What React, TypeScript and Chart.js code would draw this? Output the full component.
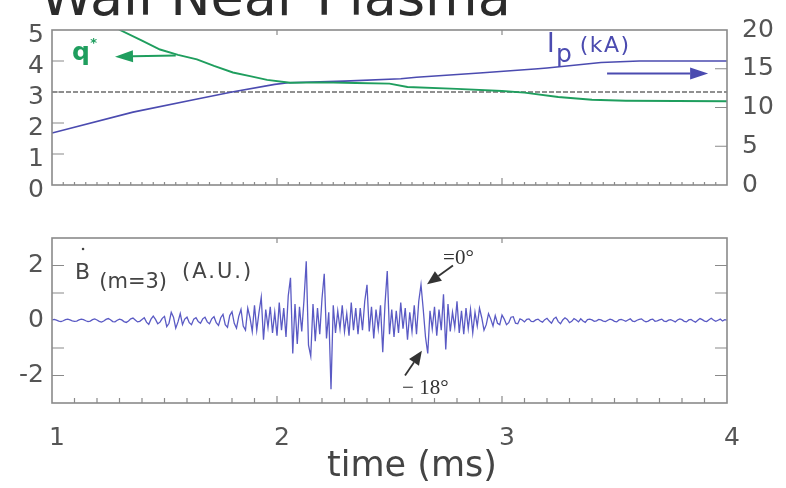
import React, { useEffect, useRef } from 'react';
import { Chart, registerables } from 'chart.js';
Chart.register(...registerables);

const TITLE = 'Wall Near Plasma';
const X_LABEL = 'time (ms)';

// q* (left axis, top panel)
const qTime = [1.25, 1.302, 1.40, 1.48, 1.56, 1.644, 1.72, 1.804, 1.88, 1.956, 2.058, 2.2, 2.35, 2.5, 2.58, 2.8, 3.0, 3.1, 3.25, 3.4, 3.55, 4.0];
const qValues = [5.25, 5.0, 4.66, 4.37, 4.2, 4.05, 3.84, 3.63, 3.51, 3.39, 3.30, 3.31, 3.29, 3.27, 3.16, 3.10, 3.03, 2.98, 2.84, 2.75, 2.72, 2.70];

// Ip in kA (right axis, top panel)
const ipTime = [1.0, 1.36, 1.64, 1.80, 1.99, 2.05, 2.3, 2.55, 2.62, 2.9, 3.16, 3.2, 3.44, 3.61, 4.0];
const ipValues = [6.7, 9.4, 11.07, 12.0, 12.98, 13.2, 13.4, 13.7, 13.9, 14.46, 15.0, 15.1, 15.8, 16.0, 16.0];

// q = 3 reference line
const qRefTime = [1, 4];
const qRefValues = [3, 3];

// B-dot (m=3) signal, sampled every 0.01 ms from 1.00 ms
const bdotStart = 1.0;
const bdotStep = 0.01;
const bdotValues = [
  0.02, 0.04, 0.01, -0.02, -0.04, -0.01, 0.03, 0.05, 0.02, -0.01,
  -0.03, -0.02, 0.02, 0.05, 0.03, -0.01, -0.04, -0.02, 0.03, 0.06,
  0.02, -0.03, -0.06, -0.02, 0.04, 0.07, 0.03, -0.04, -0.05, 0.01,
  0.05, 0.02, -0.04, -0.07, -0.02, 0.06, 0.09, 0.02, -0.05, -0.03,
  0.04, 0.10, -0.06, -0.14, 0.05, 0.16, 0.04, -0.12, -0.06, 0.08,
  0.15, -0.22, -0.10, 0.30, 0.12, -0.28, -0.05, 0.25, -0.15, 0.05,
  0.12, -0.08, -0.15, 0.05, 0.10, -0.04, -0.10, 0.06, 0.12, -0.05,
  -0.12, 0.06, 0.14, -0.08, -0.18, 0.10, 0.22, -0.15, -0.25, 0.18,
  0.32, -0.10, -0.28, 0.15, 0.40, -0.20, -0.35, 0.45, 0.10, -0.40,
  0.55, -0.35, 0.30, 0.85, -0.70, 0.40, -0.25, 0.50, -0.45, 0.30,
  -0.55, 0.65, -0.35, 0.45, -0.60, 0.90, 1.55, -1.20, 0.60, -0.85,
  0.50, -0.40, 0.75, 2.15, -0.90, -1.30, 0.60, -0.75, 0.45, -0.50,
  0.80, 1.70, -0.65, 0.30, -2.50, 0.55, -0.45, 0.35, -0.30, 0.55,
  -0.40, 0.25, -0.55, 0.65, -0.35, 0.45, -0.50, 0.45, -0.35, 0.70,
  1.30, -0.40, 0.50, -0.65, 0.40, -0.30, 0.55, -1.15, 0.60, 1.80,
  -0.50, 0.40, -0.60, 0.35, -0.45, 0.65, -0.30, 0.45, -0.70, 0.30,
  -0.40, 0.55, -0.50, 0.70, 1.30, 0.40, -0.60, -1.20, 0.35, -0.30,
  0.50, -0.55, 0.40, -0.35, 0.95, -1.05, 0.60, -0.40, 0.30, -0.25,
  0.70, -0.45, 0.35, -0.50, 0.45, -0.30, 0.40, -0.45, 0.30, -0.20,
  0.45, 0.10, -0.35, -0.15, 0.25, 0.05, -0.20, 0.18, -0.10, -0.15,
  0.20, 0.05, -0.15, -0.08, 0.12, 0.14, -0.10, -0.12, 0.06, 0.02,
  -0.05, 0.04, 0.06, -0.03, -0.04, 0.02, 0.05, -0.02, -0.06, 0.03,
  0.08, -0.02, -0.10, 0.06, 0.12, -0.04, -0.12, 0.02, 0.10, 0.04,
  -0.08, -0.03, 0.07, 0.02, -0.05, 0.06, -0.02, -0.07, 0.03, 0.05,
  0.02, -0.03, -0.01, 0.04, 0.02, -0.02, -0.04, 0.01, 0.05, 0.02,
  -0.03, -0.05, 0.02, 0.04, 0.01, -0.03, 0.02, 0.06, -0.02, -0.04,
  0.01, 0.04, 0.06, -0.01, -0.05, -0.02, 0.03, 0.05, -0.03, -0.01,
  0.02, 0.05, -0.02, -0.04, 0.01, 0.03, -0.01, -0.05, 0.02, 0.06,
  0.03, -0.03, -0.05, 0.02, 0.04, -0.02, -0.06, 0.01, 0.07, 0.03,
  -0.02, -0.04, 0.03, 0.08, 0.02, -0.03, 0.01, 0.05, -0.02, 0.03,
  0.01,
];

// axis tick values
const topLeftTicks = [0, 1, 2, 3, 4, 5];
const topRightTicks = [0, 5, 10, 15, 20];
const botLeftTicks = [-2, 0, 2];
const timeTicks = [1, 2, 3, 4];

// tick marks drawn inside the frame
const topLeftMarks = [1, 2, 3, 4];
const topRightMarks = [5, 10, 15];
const botSideMarks = [-2, -1, 1, 2];
const timeMajorMarks = [2, 3];

const GREEN = '#1f9e5e';
const BLUE = '#4b4bb0';
const FRAME = '#8a8a8a';
const LABEL = '#555555';
const FONT = 'DejaVu Sans';

function arrow(ctx: CanvasRenderingContext2D, x1: number, y1: number, x2: number, y2: number, color: string, head: number, half: number, lw: number) {
  const ang = Math.atan2(y2 - y1, x2 - x1);
  const bx = x2 - Math.cos(ang) * head;
  const by = y2 - Math.sin(ang) * head;
  ctx.save();
  ctx.strokeStyle = color;
  ctx.fillStyle = color;
  ctx.lineWidth = lw;
  ctx.beginPath();
  ctx.moveTo(x1, y1);
  ctx.lineTo(bx, by);
  ctx.stroke();
  ctx.beginPath();
  ctx.moveTo(x2, y2);
  ctx.lineTo(bx + Math.sin(ang) * half, by - Math.cos(ang) * half);
  ctx.lineTo(bx - Math.sin(ang) * half, by + Math.cos(ang) * half);
  ctx.closePath();
  ctx.fill();
  ctx.restore();
}

const framePlugin = {
  id: 'frame',
  afterDraw(chart: any, _args: any, opts: any) {
    const { ctx, chartArea: a, scales } = chart;
    const x = scales.x;
    ctx.save();
    ctx.strokeStyle = FRAME;
    ctx.lineWidth = 1.6;
    ctx.strokeRect(a.left, a.top, a.right - a.left, a.bottom - a.top);
    ctx.lineWidth = 1.2;
    ctx.beginPath();
    const ly = scales[opts.leftId];
    for (const v of opts.leftMarks) {
      const p = ly.getPixelForValue(v);
      ctx.moveTo(a.left, p); ctx.lineTo(a.left + 12, p);
    }
    const ry = scales[opts.rightId];
    for (const v of opts.rightMarks) {
      const p = ry.getPixelForValue(v);
      ctx.moveTo(a.right, p); ctx.lineTo(a.right - 12, p);
    }
    for (const v of timeMajorMarks) {
      const p = x.getPixelForValue(v);
      ctx.moveTo(p, a.top); ctx.lineTo(p, a.top + 5);
      ctx.moveTo(p, a.bottom); ctx.lineTo(p, a.bottom - 7);
    }
    const n = Math.round((x.max - x.min) / opts.minorStep);
    for (let i = 1; i < n; i++) {
      const p = x.getPixelForValue(x.min + i * opts.minorStep);
      ctx.moveTo(p, a.bottom); ctx.lineTo(p, a.bottom - opts.minorLen);
    }
    ctx.stroke();
    ctx.restore();
  },
};

const topAnnot = {
  id: 'topAnnot',
  afterDraw(chart: any) {
    const { ctx, scales } = chart;
    const x = scales.x, y = scales.y, y2 = scales.y2;
    ctx.save();
    ctx.fillStyle = '#2b2b2b';
    ctx.font = `54px "${FONT}"`;
    ctx.textBaseline = 'alphabetic';
    ctx.fillText(TITLE, 40, 15);

    // q* label + arrow
    ctx.fillStyle = GREEN;
    ctx.font = `bold 25px "${FONT}"`;
    ctx.fillText('q', x.getPixelForValue(1.089), y.getPixelForValue(4.02));
    ctx.font = `bold 13px "${FONT}"`;
    ctx.fillText('*', x.getPixelForValue(1.17), y.getPixelForValue(4.45));
    arrow(ctx, x.getPixelForValue(1.55), y.getPixelForValue(4.18), x.getPixelForValue(1.28), y.getPixelForValue(4.14), GREEN, 18, 6, 2);

    // Ip label + arrow
    ctx.fillStyle = BLUE;
    ctx.font = `26px "${FONT}"`;
    ctx.fillText('I', x.getPixelForValue(3.2), y2.getPixelForValue(17.1));
    ctx.font = `25px "${FONT}"`;
    ctx.fillText('p', x.getPixelForValue(3.24), y2.getPixelForValue(15.9));
    ctx.font = `22px "${FONT}"`;
    (ctx as any).letterSpacing = '1.5px';
    ctx.fillText('(kA)', x.getPixelForValue(3.345), y2.getPixelForValue(17.2));
    (ctx as any).letterSpacing = '0px';
    arrow(ctx, x.getPixelForValue(3.467), y2.getPixelForValue(14.4), x.getPixelForValue(3.916), y2.getPixelForValue(14.4), BLUE, 18, 6, 2);
    ctx.restore();
  },
};

const botAnnot = {
  id: 'botAnnot',
  afterDraw(chart: any) {
    const { ctx, scales, chartArea: a } = chart;
    const x = scales.x, y = scales.y;
    ctx.save();
    ctx.fillStyle = '#444';
    ctx.font = `22px "${FONT}"`;
    ctx.fillText('B', x.getPixelForValue(1.102), y.getPixelForValue(1.5));
    ctx.beginPath();
    ctx.arc(x.getPixelForValue(1.138), y.getPixelForValue(2.6), 1.3, 0, Math.PI * 2);
    ctx.fill();
    ctx.font = `21px "${FONT}"`;
    ctx.fillText('(m=3)', x.getPixelForValue(1.21), y.getPixelForValue(1.18));
    (ctx as any).letterSpacing = '2px';
    ctx.fillText('(A.U.)', x.getPixelForValue(1.578), y.getPixelForValue(1.55));
    (ctx as any).letterSpacing = '0px';

    ctx.fillStyle = '#333';
    ctx.font = `21px "Liberation Serif"`;
    ctx.fillText('=0°', x.getPixelForValue(2.738), y.getPixelForValue(2.07));
    ctx.fillText('− 18°', x.getPixelForValue(2.556), y.getPixelForValue(-2.68));
    arrow(ctx, x.getPixelForValue(2.782), y.getPixelForValue(2.0), x.getPixelForValue(2.667), y.getPixelForValue(1.32), '#333', 14, 6, 1.8);
    arrow(ctx, x.getPixelForValue(2.569), y.getPixelForValue(-2.0), x.getPixelForValue(2.644), y.getPixelForValue(-1.1), '#333', 14, 6, 1.8);

    // x-axis title
    ctx.fillStyle = '#444';
    ctx.font = `35px "${FONT}"`;
    ctx.textAlign = 'center';
    ctx.textBaseline = 'middle';
    ctx.fillText(X_LABEL, x.getPixelForValue(2.6), a.bottom + 64);
    ctx.restore();
  },
};

const tickFont = { family: FONT, size: 25 };
const noGrid = { display: false, drawTicks: false };

function topConfig(): any {
  return {
    type: 'line',
    data: {
      datasets: [
        { data: qTime.map((t, i) => ({ x: t, y: qValues[i] })), borderColor: GREEN, borderWidth: 1.9, pointRadius: 0, yAxisID: 'y' },
        { data: ipTime.map((t, i) => ({ x: t, y: ipValues[i] })), borderColor: BLUE, borderWidth: 1.6, pointRadius: 0, yAxisID: 'y2' },
        { data: qRefTime.map((t, i) => ({ x: t, y: qRefValues[i] })), borderColor: 'rgba(125,125,125,0.85)', borderWidth: 2.2, borderDash: [5, 2], pointRadius: 0, yAxisID: 'y' },
      ],
    },
    options: {
      animation: false,
      responsive: false,
      layout: { padding: { top: 30, left: 0, right: 0, bottom: 0 } },
      plugins: {
        legend: { display: false },
        tooltip: { enabled: false },
        frame: { leftId: 'y', rightId: 'y2', leftMarks: topLeftMarks, rightMarks: topRightMarks, minorStep: 0.05, minorLen: 3 },
      },
      scales: {
        x: {
          type: 'linear', min: 1, max: 4,
          ticks: { display: false }, grid: noGrid, border: { display: false },
          afterFit: (s: any) => { s.height = 16; },
        },
        y: {
          position: 'left', min: 0, max: 5,
          afterBuildTicks: (s: any) => { s.ticks = topLeftTicks.map((v) => ({ value: v })); },
          ticks: { font: tickFont, color: LABEL, padding: 8, labelOffset: 5, autoSkip: false },
          grid: noGrid, border: { display: false },
          afterFit: (s: any) => { s.width = 52; },
        },
        y2: {
          position: 'right', min: 0, max: 20,
          afterBuildTicks: (s: any) => { s.ticks = topRightTicks.map((v) => ({ value: v })); },
          ticks: { font: tickFont, color: LABEL, padding: 15, autoSkip: false },
          grid: noGrid, border: { display: false },
          afterFit: (s: any) => { s.width = 59; },
        },
      },
    },
    plugins: [framePlugin, topAnnot],
  };
}

function botConfig(): any {
  return {
    type: 'line',
    data: {
      datasets: [
        { data: bdotValues.map((v, i) => ({ x: bdotStart + i * bdotStep, y: v })), borderColor: 'rgba(72,72,190,0.9)', borderWidth: 1.3, pointRadius: 0 },
      ],
    },
    options: {
      animation: false,
      responsive: false,
      layout: { padding: { top: 18, left: 0, right: 59, bottom: 0 } },
      plugins: {
        legend: { display: false },
        tooltip: { enabled: false },
        frame: { leftId: 'y', rightId: 'y', leftMarks: botSideMarks, rightMarks: botSideMarks, minorStep: 0.1, minorLen: 5 },
      },
      scales: {
        x: {
          type: 'linear', min: 1, max: 4,
          afterBuildTicks: (s: any) => { s.ticks = timeTicks.map((v) => ({ value: v })); },
          ticks: { font: tickFont, color: LABEL, padding: 20, labelOffset: 5, maxRotation: 0, autoSkip: false },
          grid: noGrid, border: { display: false },
          afterFit: (s: any) => { s.height = 85; },
        },
        y: {
          position: 'left', min: -3, max: 3,
          afterBuildTicks: (s: any) => { s.ticks = botLeftTicks.map((v) => ({ value: v })); },
          ticks: { font: tickFont, color: LABEL, padding: 8, autoSkip: false },
          grid: noGrid, border: { display: false },
          afterFit: (s: any) => { s.width = 52; },
        },
      },
    },
    plugins: [framePlugin, botAnnot],
  };
}

export default function App() {
  const topRef = useRef<HTMLCanvasElement>(null);
  const botRef = useRef<HTMLCanvasElement>(null);
  useEffect(() => {
    const c1 = new Chart(topRef.current as HTMLCanvasElement, topConfig());
    const c2 = new Chart(botRef.current as HTMLCanvasElement, botConfig());
    return () => { c1.destroy(); c2.destroy(); };
  }, []);
  return (
    <div style={{ position: 'fixed', left: 0, top: 0, width: 786, height: 488, background: '#fff', overflow: 'hidden' }}>
      <canvas ref={topRef} width={786} height={215} style={{ position: 'absolute', left: 0, top: 0, width: 786, height: 215 }} />
      <canvas ref={botRef} width={786} height={273} style={{ position: 'absolute', left: 0, top: 215, width: 786, height: 273 }} />
    </div>
  );
}
